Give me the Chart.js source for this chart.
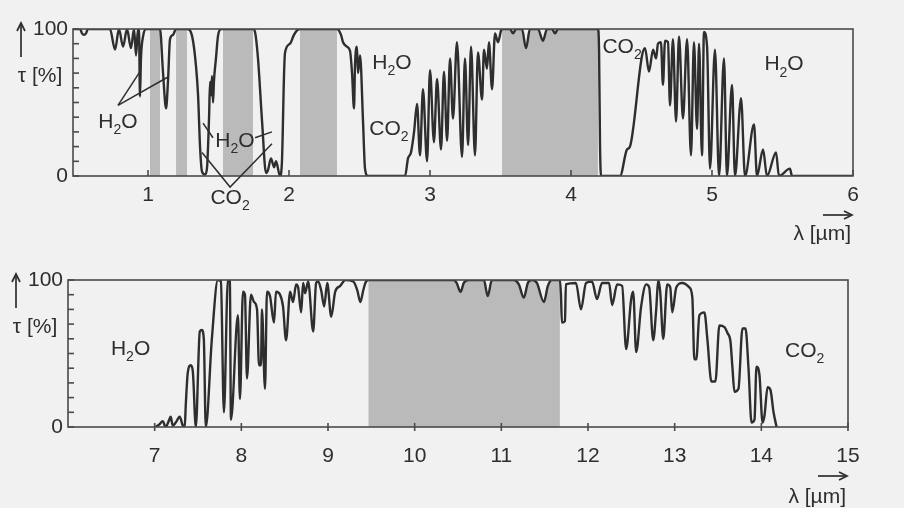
<!DOCTYPE html>
<html>
<head>
<meta charset="utf-8">
<script src="https://cdn.jsdelivr.net/npm/chart.js@4/dist/chart.umd.min.js"></script>
<style>
  html, body { margin: 0; padding: 0; background: #f1f1f1; }
  #wrap { position: relative; width: 904px; height: 508px; overflow: hidden; background: #f1f1f1; }
  canvas { position: absolute; left: 0; }
  #c1 { top: 0; }
  #c2 { top: 250px; }
</style>
</head>
<body>
<div id="wrap">
  <canvas id="c1" width="904" height="250"></canvas>
  <canvas id="c2" width="904" height="258"></canvas>
</div>
<script>
// Atmospheric transmission τ [%] versus wavelength λ [µm]

// ---- upper panel: 0.47 … 6 µm ----
const lambdaTop = [
  0.468, 0.518, 0.532, 0.546, 0.560, 0.574, 0.730, 0.766, 0.794, 0.823,
  0.851, 0.879, 0.901, 0.915, 0.929, 0.936, 0.943, 0.950, 0.965, 0.986,
  1.014, 1.085, 1.106, 1.128, 1.142, 1.156, 1.177, 1.199, 1.277, 1.298,
  1.319, 1.340, 1.355, 1.369, 1.383, 1.404, 1.418, 1.433, 1.440, 1.447,
  1.454, 1.461, 1.468, 1.482, 1.496, 1.518, 1.532, 1.745, 1.759, 1.780,
  1.809, 1.837, 1.851, 1.872, 1.894, 1.908, 1.936, 1.950, 1.965, 1.972,
  2.007, 2.035, 2.057, 2.078, 2.340, 2.369, 2.383, 2.411, 2.433, 2.447,
  2.461, 2.468, 2.482, 2.489, 2.504, 2.525, 2.539, 2.560, 2.823, 2.844,
  2.865, 2.887, 2.908, 2.929, 2.950, 2.979, 3.000, 3.028, 3.050, 3.078,
  3.099, 3.121, 3.142, 3.163, 3.191, 3.227, 3.248, 3.270, 3.291, 3.319,
  3.340, 3.369, 3.383, 3.404, 3.418, 3.440, 3.461, 3.482, 3.504, 3.511,
  3.567, 3.589, 3.610, 3.652, 3.681, 3.709, 3.766, 3.801, 3.830, 3.865,
  3.887, 3.908, 4.191, 4.199, 4.206, 4.213, 4.348, 4.397, 4.418, 4.504,
  4.525, 4.553, 4.582, 4.603, 4.617, 4.638, 4.652, 4.667, 4.688, 4.702,
  4.723, 4.745, 4.766, 4.794, 4.823, 4.851, 4.872, 4.894, 4.908, 4.929,
  4.943, 4.965, 4.986, 5.021, 5.050, 5.085, 5.106, 5.142, 5.163, 5.206,
  5.234, 5.298, 5.319, 5.362, 5.390, 5.454, 5.475, 5.553, 5.567, 6.000
];
const tauTop = [
  100, 100, 97, 96, 97, 100, 100, 86, 100, 88,
  100, 87, 100, 82, 100, 100, 54, 80, 95, 100,
  100, 100, 71, 46, 65, 93, 96, 100, 100, 99,
  92, 75, 55, 20, 3, 1, 5, 40, 64, 55,
  68, 50, 65, 80, 95, 100, 100, 100, 98, 80,
  37, 2, 4, 12, 6, 10, 0, 10, 70, 84,
  90, 96, 99, 100, 100, 96, 91, 88, 85, 70,
  46, 75, 88, 70, 82, 37, 5, 0, 0, 12,
  16, 30, 49, 14, 59, 10, 72, 23, 66, 18,
  71, 24, 80, 39, 91, 13, 80, 21, 88, 14,
  84, 52, 86, 73, 91, 59, 97, 91, 99, 100,
  100, 97, 100, 100, 87, 100, 100, 92, 100, 100,
  97, 100, 100, 85, 20, 0, 0, 18, 20, 82,
  87, 71, 86, 80, 90, 91, 62, 92, 91, 48,
  93, 37, 95, 39, 93, 14, 91, 32, 90, 14,
  98, 88, 5, 86, 0, 80, 0, 62, 0, 53,
  0, 35, 0, 18, 0, 16, 0, 5, 0, 0
];
const xTicksTop = [1, 2, 3, 4, 5, 6];
// transmission windows shaded under the curve
const windowsTop = [[1.014, 1.085], [1.199, 1.277], [1.532, 1.745], [2.078, 2.340], [3.511, 4.191]];

// ---- lower panel: 6 … 15 µm ----
const lambdaBottom = [
  7.012, 7.058, 7.093, 7.127, 7.162, 7.185, 7.208, 7.243, 7.289, 7.324,
  7.347, 7.359, 7.382, 7.417, 7.440, 7.475, 7.521, 7.544, 7.567, 7.590,
  7.660, 7.729, 7.764, 7.799, 7.845, 7.868, 7.880, 7.961, 7.984, 8.019,
  8.042, 8.065, 8.111, 8.146, 8.181, 8.204, 8.227, 8.238, 8.273, 8.296,
  8.331, 8.377, 8.400, 8.447, 8.481, 8.516, 8.563, 8.597, 8.632, 8.655,
  8.690, 8.713, 8.736, 8.771, 8.829, 8.863, 8.887, 8.921, 8.956, 8.991,
  9.037, 9.083, 9.141, 9.199, 9.292, 9.338, 9.373, 9.407, 9.431, 9.465,
  10.449, 10.484, 10.530, 10.567, 10.625, 10.799, 10.843, 10.891, 11.144, 11.202,
  11.259, 11.306, 11.352, 11.410, 11.491, 11.537, 11.583, 11.641, 11.676, 11.688,
  11.699, 11.734, 11.745, 11.861, 11.919, 11.977, 12.046, 12.104, 12.162, 12.243,
  12.278, 12.336, 12.394, 12.440, 12.498, 12.521, 12.556, 12.613, 12.671, 12.706,
  12.752, 12.787, 12.810, 12.833, 12.868, 12.914, 12.949, 12.972, 13.019, 13.088,
  13.169, 13.204, 13.227, 13.250, 13.285, 13.343, 13.377, 13.424, 13.470, 13.516,
  13.574, 13.609, 13.644, 13.667, 13.690, 13.736, 13.782, 13.817, 13.852, 13.887,
  13.921, 13.944, 13.979, 14.014, 14.037, 14.072, 14.106, 14.141, 14.176
];
const tauBottom = [
  0, 2, 4, 0, 4, 7, 1, 3, 7, 1,
  0, 15, 37, 42, 38, 0, 65, 66, 60, 0,
  60, 100, 99, 10, 100, 99, 5, 76, 19, 92,
  90, 33, 90, 85, 80, 42, 42, 80, 26, 92,
  89, 71, 92, 90, 82, 59, 92, 85, 97, 95,
  78, 98, 91, 99, 65, 98, 99, 93, 82, 98,
  75, 92, 96, 100, 99, 93, 85, 93, 98, 100,
  100, 98, 92, 98, 100, 100, 89, 100, 100, 97,
  88, 98, 100, 98, 85, 96, 100, 100, 100, 90,
  71, 72, 97, 98, 80, 98, 99, 87, 98, 98,
  83, 97, 96, 53, 87, 92, 51, 82, 97, 95,
  59, 80, 100, 92, 60, 97, 95, 78, 95, 98,
  95, 88, 46, 46, 76, 78, 60, 31, 31, 69,
  68, 64, 58, 40, 24, 26, 67, 67, 40, 3,
  5, 41, 35, 3, 8, 27, 25, 10, 0
];
const xTicksBottom = [7, 8, 9, 10, 11, 12, 13, 14, 15];
const windowsBottom = [[9.465, 11.676]];

const yTicks = [0, 100];

const FONT = '"Liberation Sans", Arial, Helvetica, sans-serif';
const INK = '#2e2e2e';
const FRAME = '#4a4a4a';
const SHADE = '#bababa';

function points(xs, ys) {
  return xs.map((x, i) => ({ x: x, y: ys[i] }));
}

function windowDatasets(pts, windows) {
  return windows.map(([a, b]) => ({
    data: pts.filter(p => p.x >= a - 1e-9 && p.x <= b + 1e-9),
    borderWidth: 0,
    backgroundColor: SHADE,
    fill: 'origin',
    pointRadius: 0,
    cubicInterpolationMode: 'monotone',
    order: 1
  }));
}

// chemical formula such as 'H_2O': '_' lowers the following character
function drawFormula(ctx, text, x, y, size) {
  const runs = [];
  for (let i = 0; i < text.length; i++) {
    if (text[i] === '_') { runs.push({ s: text[i + 1], sub: true }); i++; }
    else runs.push({ s: text[i], sub: false });
  }
  const big = size + 'px ' + FONT;
  const small = Math.round(size * 0.68) + 'px ' + FONT;
  let w = 0;
  runs.forEach(r => { ctx.font = r.sub ? small : big; r.w = ctx.measureText(r.s).width; w += r.w; });
  let cx = x - w / 2;
  const base = y + size * 0.36;
  ctx.textAlign = 'left';
  ctx.textBaseline = 'alphabetic';
  runs.forEach(r => {
    ctx.font = r.sub ? small : big;
    ctx.fillText(r.s, cx, base + (r.sub ? size * 0.3 : 0));
    cx += r.w;
  });
}

function strokeLine(ctx, pts) {
  ctx.beginPath();
  ctx.moveTo(pts[0], pts[1]);
  for (let i = 2; i < pts.length; i += 2) ctx.lineTo(pts[i], pts[i + 1]);
  ctx.stroke();
}

function decorPlugin(cfg) {
  return {
    id: 'decor',
    afterDatasetsDraw(chart) {
      const { ctx, chartArea: a, scales: { x, y } } = chart;
      ctx.save();
      ctx.strokeStyle = FRAME;
      ctx.lineWidth = 1.6;
      y.ticks.forEach(t => {
        const py = y.getPixelForValue(t.value);
        strokeLine(ctx, [a.left, py, a.left + 6, py]);
      });
      x.ticks.forEach(t => {
        const px = x.getPixelForValue(t.value);
        if (cfg.crossTicks) strokeLine(ctx, [px, a.bottom - 4, px, a.bottom + 4]);
        else strokeLine(ctx, [px, a.bottom - 6, px, a.bottom]);
      });
      ctx.strokeRect(a.left, a.top, a.right - a.left, a.bottom - a.top);
      ctx.restore();
    },
    afterDraw(chart) {
      const { ctx, chartArea: a, scales: { x, y } } = chart;
      ctx.save();
      ctx.fillStyle = INK;
      ctx.strokeStyle = INK;
      ctx.lineWidth = 1.5;
      // leader lines from the gas names to the absorption features
      cfg.leaders.forEach(l => {
        const px = [];
        for (let i = 0; i < l.length; i += 2) px.push(x.getPixelForValue(l[i]), y.getPixelForValue(l[i + 1]));
        strokeLine(ctx, px);
      });
      cfg.labels.forEach(l => drawFormula(ctx, l.t, x.getPixelForValue(l.x), y.getPixelForValue(l.y), 21));

      // vertical axis arrow and title
      const ax = a.left - 52;
      ctx.lineWidth = 1.7;
      strokeLine(ctx, [ax, a.top + 28, ax, a.top - 6]);
      strokeLine(ctx, [ax - 4, a.top + 2, ax, a.top - 6, ax + 4, a.top + 2]);
      ctx.font = '21px ' + FONT;
      ctx.textAlign = 'center';
      ctx.textBaseline = 'middle';
      ctx.fillText('τ [%]', a.left - 33, a.top + 47);

      // horizontal axis arrow and title
      const ay = a.bottom + cfg.xArrowDy;
      strokeLine(ctx, [a.right - 30, ay, a.right - 1, ay]);
      strokeLine(ctx, [a.right - 9, ay - 4, a.right - 1, ay, a.right - 9, ay + 4]);
      ctx.textAlign = 'right';
      ctx.fillText('λ [µm]', a.right - 2, a.bottom + cfg.xTitleDy);
      ctx.restore();
    }
  };
}

function makeChart(id, o) {
  const pts = points(o.xs, o.ys);
  const datasets = [{
    data: pts,
    borderColor: INK,
    borderWidth: 2.4,
    pointRadius: 0,
    fill: false,
    cubicInterpolationMode: 'monotone',
    order: 0
  }].concat(windowDatasets(pts, o.windows));

  return new Chart(document.getElementById(id), {
    type: 'line',
    data: { datasets: datasets },
    plugins: [decorPlugin(o.decor)],
    options: {
      responsive: false,
      devicePixelRatio: 1,
      animation: false,
      events: [],
      layout: { padding: o.padding },
      plugins: { legend: { display: false }, tooltip: { enabled: false } },
      scales: {
        x: {
          type: 'linear',
          min: o.min,
          max: o.max,
          grid: { display: false, drawTicks: false },
          border: { display: false },
          afterBuildTicks: s => { s.ticks = o.xTicks.map(v => ({ value: v })); },
          afterFit: s => { s.height = o.xHeight; },
          ticks: { color: INK, font: { family: FONT, size: 21 }, padding: o.xPad, maxRotation: 0, autoSkip: false }
        },
        y: {
          min: 0,
          max: 100,
          grid: { display: false, drawTicks: false },
          border: { display: false },
          afterFit: s => { s.width = o.yWidth; },
          ticks: {
            stepSize: 10,
            color: INK,
            font: { family: FONT, size: 21 },
            padding: 5,
            autoSkip: false,
            callback: v => (yTicks.includes(v) ? String(v) : '')
          }
        }
      }
    }
  });
}

makeChart('c1', {
  xs: lambdaTop, ys: tauTop, windows: windowsTop, xTicks: xTicksTop,
  min: 0.468, max: 6,
  padding: { left: 0, right: 51, top: 29, bottom: 0 },
  yWidth: 73, xHeight: 74, xPad: 7,
  decor: {
    crossTicks: false,
    xArrowDy: 39, xTitleDy: 58,
    labels: [
      { t: 'H_2O', x: 0.787, y: 38 },
      { t: 'CO_2', x: 1.582, y: -14 },
      { t: 'H_2O', x: 1.617, y: 25 },
      { t: 'H_2O', x: 2.730, y: 78 },
      { t: 'CO_2', x: 2.709, y: 33 },
      { t: 'CO_2', x: 4.362, y: 89 },
      { t: 'H_2O', x: 5.511, y: 77 }
    ],
    leaders: [
      [0.787, 48, 0.943, 71],
      [0.787, 48, 1.135, 67],
      [1.383, 16, 1.582, -7.5, 1.879, 22],
      [1.390, 36, 1.461, 26],
      [1.759, 26, 1.879, 30]
    ]
  }
});

makeChart('c2', {
  xs: lambdaBottom, ys: tauBottom, windows: windowsBottom, xTicks: xTicksBottom,
  min: 6, max: 15,
  padding: { left: 0, right: 56, top: 30, bottom: 0 },
  yWidth: 68, xHeight: 81, xPad: 17,
  decor: {
    crossTicks: true,
    xArrowDy: 49, xTitleDy: 70,
    labels: [
      { t: 'H_2O', x: 6.722, y: 54 },
      { t: 'CO_2', x: 14.5, y: 53 }
    ],
    leaders: []
  }
});
</script>
</body>
</html>
